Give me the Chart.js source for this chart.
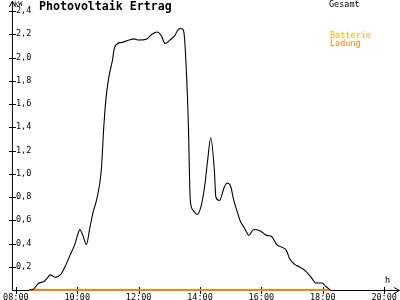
<!DOCTYPE html>
<html>
<head>
<meta charset="utf-8">
<script src="https://cdn.jsdelivr.net/npm/chart.js@4"></script>
<style>
html, body { margin: 0; padding: 0; background: #fff; }
</style>
</head>
<body>
<canvas id="myChart" width="400" height="300"></canvas>
<script>
const chartTitle = 'Photovoltaik Ertrag';
const yUnit = 'kW';
const xUnit = 'h';

// Gesamt: time of day and power in kW
const times = [
  '08:26', '08:35', '08:45', '08:54', '09:01', '09:07', '09:17', '09:27', '09:36', '09:46',
  '09:55', '10:02', '10:05', '10:11', '10:18', '10:24', '10:31', '10:37', '10:43', '10:47',
  '10:52', '10:56', '11:01', '11:06', '11:09', '11:12', '11:19', '11:28', '11:41', '11:51',
  '12:00', '12:16', '12:26', '12:36', '12:44', '12:52', '13:01', '13:11', '13:17', '13:22',
  '13:27', '13:30', '13:37', '13:41', '13:46', '13:54', '14:02', '14:09', '14:15', '14:21',
  '14:28', '14:31', '14:38', '14:47', '14:53', '15:00', '15:06', '15:13', '15:19', '15:26',
  '15:32', '15:35', '15:45', '15:57', '16:10', '16:20', '16:30', '16:39', '16:49', '16:55',
  '17:05', '17:14', '17:27', '17:37', '17:47', '17:59', '18:06', '18:15'
];
const gesamt = [
  0.00, 0.01, 0.06, 0.07, 0.10, 0.13, 0.11, 0.13, 0.20, 0.30,
  0.39, 0.49, 0.52, 0.47, 0.39, 0.52, 0.67, 0.76, 0.89, 1.03,
  1.41, 1.64, 1.81, 1.92, 1.98, 2.07, 2.12, 2.13, 2.15, 2.16,
  2.15, 2.16, 2.20, 2.22, 2.19, 2.12, 2.15, 2.19, 2.24, 2.25,
  2.24, 2.15, 1.46, 0.77, 0.69, 0.65, 0.72, 0.89, 1.12, 1.31,
  1.03, 0.80, 0.77, 0.88, 0.92, 0.89, 0.77, 0.67, 0.59, 0.54,
  0.49, 0.47, 0.52, 0.51, 0.47, 0.46, 0.39, 0.37, 0.34, 0.27,
  0.22, 0.20, 0.16, 0.11, 0.06, 0.06, 0.03, 0.00
];

// Batterie Ladung
const ladungTimes = ['08:26', '18:15'];
const ladung = [0, 0];

const xTicks = [8, 10, 12, 14, 16, 18, 20];
const yMin = 0;
const yMax = 2.4;
const yStep = 0.2;

const labels = ['Gesamt', 'Batterie', 'Ladung'];
const colors = ['#000000', '#ffb000', '#ff8000'];

function toHours(t) {
  const [h, m] = t.split(':').map(Number);
  return h + m / 60;
}
function pad(n) { return (n < 10 ? '0' : '') + n; }

const font = 'DejaVu Sans Mono';

const decor = {
  id: 'decor',
  beforeDatasetsDraw(chart) {
    const c = chart.ctx;
    const xs = chart.scales.x, ys = chart.scales.y;
    const x0 = xs.getPixelForValue(xs.min);
    const y0 = ys.getPixelForValue(0);
    c.save();
    c.strokeStyle = '#000';
    c.lineWidth = 1;
    c.beginPath();
    // axes with arrows
    c.moveTo(x0 + 0.5, y0);
    c.lineTo(x0 + 0.5, 2);
    c.moveTo(x0 - 2.5, 7); c.lineTo(x0 + 0.5, 1); c.lineTo(x0 + 3.5, 7);
    c.moveTo(x0, y0 + 0.5);
    c.lineTo(399, y0 + 0.5);
    c.moveTo(394, y0 - 2.5); c.lineTo(399.5, y0 + 0.5); c.lineTo(394, y0 + 3.5);
    // tick marks crossing the axes
    ys.ticks.forEach(t => {
      if (t.value === 0) return;
      const y = Math.round(ys.getPixelForValue(t.value)) + 0.5;
      c.moveTo(x0 - 3, y); c.lineTo(x0 + 4, y);
    });
    xs.ticks.forEach(t => {
      const x = Math.round(xs.getPixelForValue(t.value)) + 0.5;
      c.moveTo(x, y0 - 3); c.lineTo(x, y0 + 4);
    });
    c.stroke();
    c.restore();
  },
  afterDraw(chart) {
    const c = chart.ctx;
    c.save();
    c.textBaseline = 'middle';
    c.textAlign = 'left';
    c.fillStyle = '#000';
    c.font = 'bold 11.6px "' + font + '"';
    c.fillText(chartTitle, 39, 7);
    c.font = '7px "' + font + '"';
    c.fillText(yUnit, 14, 4);
    c.font = '8.5px "' + font + '"';
    c.fillText(xUnit, 385, 281);
    c.fillStyle = colors[0];
    c.fillText(labels[0], 329, 5);
    c.fillStyle = colors[1];
    c.fillText(labels[1], 330, 36);
    c.fillStyle = colors[2];
    c.fillText(labels[2], 330, 44);
    c.restore();
  }
};

new Chart(document.getElementById('myChart'), {
  type: 'line',
  data: {
    datasets: [
      {
        label: labels[0],
        data: times.map((t, i) => ({ x: toHours(t), y: gesamt[i] })),
        borderColor: colors[0],
        borderWidth: 1.1,
        pointRadius: 0,
        cubicInterpolationMode: 'monotone',
        clip: false
      },
      {
        label: labels[1],
        data: [],
        borderColor: colors[1],
        borderWidth: 2,
        pointRadius: 0
      },
      {
        label: labels[2],
        data: ladungTimes.map((t, i) => ({ x: toHours(t), y: ladung[i] })),
        borderColor: colors[2],
        borderWidth: 2,
        pointRadius: 0,
        clip: false
      }
    ]
  },
  options: {
    responsive: false,
    devicePixelRatio: 1,
    animation: false,
    layout: { padding: { left: 11, right: 2, top: 11, bottom: 0 } },
    plugins: {
      legend: { display: false },
      tooltip: { enabled: false }
    },
    scales: {
      x: {
        type: 'linear',
        min: 8 - 4 / 31.2,
        max: 8 + 383 / 31.2,
        afterBuildTicks: s => { s.ticks = xTicks.map(v => ({ value: v })); },
        afterFit: s => { s.height = 10; },
        grid: { display: false, drawTicks: false },
        border: { display: false },
        ticks: {
          padding: 3,
          color: '#000',
          maxRotation: 0,
          font: { family: font, size: 8.5 },
          callback: v => pad(v) + ':00'
        }
      },
      y: {
        min: yMin,
        max: yMax,
        afterFit: s => { s.width = 0; },
        grid: { display: false, drawTicks: false },
        border: { display: false },
        ticks: {
          stepSize: yStep,
          mirror: true,
          padding: 4,
          color: '#000',
          font: { family: font, size: 8.5 },
          callback: v => v === 0 ? '' : v.toFixed(1).replace('.', ',')
        }
      }
    }
  },
  plugins: [decor]
});
</script>
</body>
</html>
